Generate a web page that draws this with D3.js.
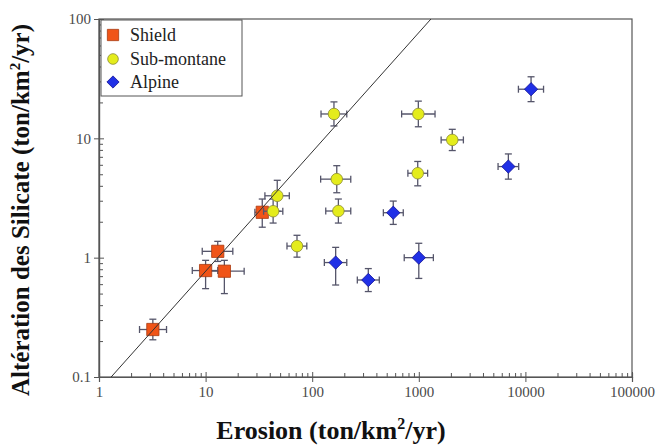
<!DOCTYPE html>
<html>
<head>
<meta charset="utf-8">
<script src="https://cdn.jsdelivr.net/npm/d3@7"></script>
<style>
  html, body { margin: 0; padding: 0; background: #fff; }
  svg { display: block; }
  svg text { font-family: "Liberation Serif", "Times New Roman", serif; }
</style>
</head>
<body>
<svg id="chart" width="664" height="448"></svg>
<script>
// Erosion vs silicate weathering, three lithology groups (log-log)
const groups = ["Shield", "Sub-montane", "Alpine"];

// Shield basins
const shieldErosion  = [3.2, 10, 15, 13, 34];
const shieldWeather  = [0.25, 0.78, 0.77, 1.13, 2.4];
const shieldXLo = [2.4, 7.5, 10.5, 9.3, 29];
const shieldXHi = [4.3, 13, 23, 18, 40];
const shieldYLo = [0.205, 0.55, 0.5, 0.93, 1.8];
const shieldYHi = [0.305, 0.95, 0.95, 1.37, 3.1];

// Sub-montane basins
const subErosion = [43, 47, 72, 160, 990, 170, 977, 176, 2060];
const subWeather = [2.45, 3.3, 1.25, 16, 16, 4.55, 5.1, 2.46, 9.7];
const subXLo = [35, 36, 58, 121, 690, 120, 790, 134, 1620];
const subXHi = [53, 61, 89, 211, 1420, 230, 1210, 230, 2620];
const subYLo = [1.95, 2.45, 1.01, 12.7, 12.5, 3.5, 4.0, 1.95, 7.9];
const subYHi = [3.1, 4.45, 1.54, 20.2, 20.5, 5.9, 6.4, 3.1, 11.9];

// Alpine basins
const alpErosion = [576, 166, 336, 1000, 6920, 11300];
const alpWeather = [2.38, 0.91, 0.65, 1.0, 5.8, 25.8];
const alpXLo = [465, 130, 265, 730, 5540, 8600];
const alpXHi = [715, 211, 426, 1370, 8650, 14800];
const alpYLo = [1.9, 0.59, 0.52, 0.67, 4.55, 20.3];
const alpYHi = [2.98, 1.22, 0.81, 1.32, 7.4, 32.8];

// Reference line: weathering = erosion / 13
const lineErosion = [1.3, 1300];
const lineRatio = 13;

const xMajor = [1, 10, 100, 1000, 10000, 100000];
const yMajor = [0.1, 1, 10, 100];
const xTickLabels = ["1", "10", "100", "1000", "10000", "100000"];
const yTickLabels = ["0.1", "1", "10", "100"];

const SERIF = '"Liberation Serif", "Times New Roman", serif';
const svg = d3.select("#chart");
const x = d3.scaleLog().domain([1, 100000]).range([99, 632]);
const y = d3.scaleLog().domain([0.1, 100]).range([377, 19]);

function minors(majors) {
  const out = [];
  for (let i = 0; i < majors.length - 1; i++)
    for (let k = 2; k <= 9; k++) out.push(majors[i] * k);
  return out;
}

const axisColor = "#555";
const labelColor = "#4a4a4a";

// frame
svg.append("rect")
  .attr("x", x(1)).attr("y", y(100))
  .attr("width", x(100000) - x(1)).attr("height", y(0.1) - y(100))
  .attr("fill", "none").attr("stroke", axisColor).attr("stroke-width", 1.2);

// x axis: majors and minors
const gx = svg.append("g").attr("transform", `translate(0,${y(0.1)})`);
gx.call(d3.axisBottom(x).tickValues(xMajor).tickSize(5).tickPadding(4)
  .tickFormat((d, i) => xTickLabels[i]));
gx.append("g").call(d3.axisBottom(x).tickValues(minors(xMajor)).tickSize(-4).tickFormat(""));
gx.selectAll(".tick line").attr("stroke", axisColor);
gx.selectAll("g.tick").filter(d => xMajor.includes(d)).append("line")
  .attr("y2", -5).attr("stroke", axisColor);
gx.selectAll(".domain").attr("stroke", axisColor).attr("stroke-width", 1.2);
gx.attr("font-family", null);
gx.selectAll("text").attr("fill", labelColor)
  .style("font-family", SERIF).style("font-size", "15px");

// y axis: majors and minors
const gy = svg.append("g").attr("transform", `translate(${x(1)},0)`);
gy.call(d3.axisLeft(y).tickValues(yMajor).tickSize(5).tickPadding(3)
  .tickFormat((d, i) => yTickLabels[i]));
gy.append("g").call(d3.axisLeft(y).tickValues(minors(yMajor)).tickSize(-4).tickFormat(""));
gy.selectAll(".tick line").attr("stroke", axisColor);
gy.selectAll("g.tick").filter(d => yMajor.includes(d)).append("line")
  .attr("x2", 5).attr("stroke", axisColor);
gy.selectAll(".domain").attr("stroke", axisColor).attr("stroke-width", 1.2);
gy.attr("font-family", null);
gy.selectAll("text").attr("fill", labelColor)
  .style("font-family", SERIF).style("font-size", "15px");

// axis titles
const xt = svg.append("text")
  .attr("x", 331).attr("y", 439)
  .attr("text-anchor", "middle").style("font-size", "26px").attr("font-weight", "bold")
  .attr("fill", "#111");
xt.append("tspan").text("Erosion (ton/km");
xt.append("tspan").text("2").style("font-size", "16px").attr("dy", -10);
xt.append("tspan").text("/yr)").attr("dy", 10);

const yt = svg.append("text")
  .attr("transform", "translate(29,210) rotate(-90)")
  .attr("text-anchor", "middle").style("font-size", "25px").attr("font-weight", "bold")
  .attr("fill", "#111");
yt.append("tspan").text("Altération des Silicate (ton/km");
yt.append("tspan").text("2").style("font-size", "15px").attr("dy", -9);
yt.append("tspan").text("/yr)").attr("dy", 9);

// series definitions (diamond = square turned 45 degrees)
const series = [
  { name: groups[0], ex: shieldErosion, wy: shieldWeather, xl: shieldXLo, xh: shieldXHi, yl: shieldYLo, yh: shieldYHi,
    shape: d3.symbolSquare, size: 150, rot: 0, fill: "#f05418", stroke: "#a83a10" },
  { name: groups[1], ex: subErosion, wy: subWeather, xl: subXLo, xh: subXHi, yl: subYLo, yh: subYHi,
    shape: d3.symbolCircle, size: 105, rot: 0, fill: "#e4ec1c", stroke: "#8a8a30" },
  { name: groups[2], ex: alpErosion, wy: alpWeather, xl: alpXLo, xh: alpXHi, yl: alpYLo, yh: alpYHi,
    shape: d3.symbolSquare, size: 88, rot: 45, fill: "#2030e6", stroke: "#14149a" }
];

const errColor = "#55556a";
const cap = 3.5;
series.forEach(s => {
  const pts = s.ex.map((e, i) => ({ e, w: s.wy[i], xl: s.xl[i], xh: s.xh[i], yl: s.yl[i], yh: s.yh[i] }));
  const g = svg.append("g");
  const eb = g.selectAll("g.err").data(pts).join("g").attr("class", "err")
    .attr("stroke", errColor).attr("stroke-width", 1.3);
  // horizontal bars with caps
  eb.append("line").attr("x1", d => x(d.xl)).attr("x2", d => x(d.xh))
    .attr("y1", d => y(d.w)).attr("y2", d => y(d.w));
  eb.append("line").attr("x1", d => x(d.xl)).attr("x2", d => x(d.xl))
    .attr("y1", d => y(d.w) - cap).attr("y2", d => y(d.w) + cap);
  eb.append("line").attr("x1", d => x(d.xh)).attr("x2", d => x(d.xh))
    .attr("y1", d => y(d.w) - cap).attr("y2", d => y(d.w) + cap);
  // vertical bars with caps
  eb.append("line").attr("x1", d => x(d.e)).attr("x2", d => x(d.e))
    .attr("y1", d => y(d.yl)).attr("y2", d => y(d.yh));
  eb.append("line").attr("x1", d => x(d.e) - cap).attr("x2", d => x(d.e) + cap)
    .attr("y1", d => y(d.yl)).attr("y2", d => y(d.yl));
  eb.append("line").attr("x1", d => x(d.e) - cap).attr("x2", d => x(d.e) + cap)
    .attr("y1", d => y(d.yh)).attr("y2", d => y(d.yh));
  g.selectAll("path.mk").data(pts).join("path").attr("class", "mk")
    .attr("transform", d => `translate(${x(d.e)},${y(d.w)}) rotate(${s.rot})`)
    .attr("d", d3.symbol(s.shape, s.size))
    .attr("fill", s.fill).attr("stroke", s.stroke).attr("stroke-width", 0.8);
});

// 1:13 reference line
svg.append("line")
  .attr("x1", x(lineErosion[0])).attr("y1", y(lineErosion[0] / lineRatio))
  .attr("x2", x(lineErosion[1])).attr("y2", y(lineErosion[1] / lineRatio))
  .attr("stroke", "#333").attr("stroke-width", 1);

// legend
const lg = svg.append("g");
lg.append("rect").attr("x", 101).attr("y", 20).attr("width", 141).attr("height", 76)
  .attr("fill", "#fff").attr("stroke", "#555").attr("stroke-width", 1);
const legendY = [35, 59, 82];
series.forEach((s, i) => {
  lg.append("path").attr("transform", `translate(113,${legendY[i]}) rotate(${s.rot})`)
    .attr("d", d3.symbol(s.shape, s.size * 0.85))
    .attr("fill", s.fill).attr("stroke", s.stroke).attr("stroke-width", 0.8);
  lg.append("text").attr("x", 130).attr("y", legendY[i] + 6)
    .style("font-size", "18px").attr("fill", "#222").text(s.name);
});
</script>
</body>
</html>
